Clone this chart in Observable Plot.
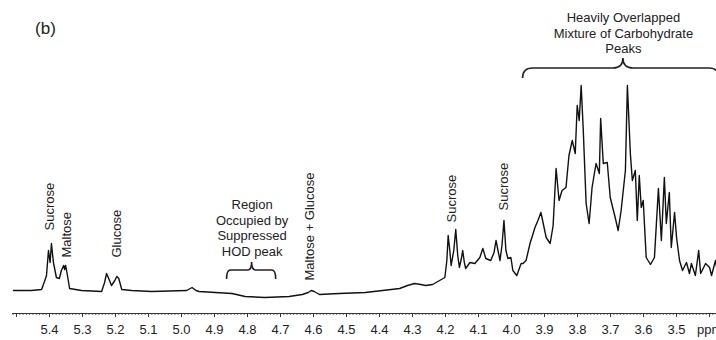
<!DOCTYPE html>
<html>
<head>
<meta charset="utf-8">
<script src="https://cdn.jsdelivr.net/npm/d3@7"></script>
<script src="https://cdn.jsdelivr.net/npm/@observablehq/plot@0.6"></script>
<style>
  html, body { margin: 0; padding: 0; background: #fff; }
  #chart { width: 716px; height: 340px; }
  svg { font-family: "Liberation Sans", Arial, sans-serif; }
</style>
</head>
<body>
<div id="chart"></div>
<script>
// Chemical shift (ppm) and intensity (arbitrary units)
const ppm = [5.509,5.455,5.424,5.415,5.409,5.403,5.398,5.394,5.388,5.379,5.370,5.364,5.357,5.354,5.351,5.345,5.339,5.303,
  5.242,5.233,5.227,5.218,5.212,5.202,5.196,5.190,5.181,5.151,5.090,4.984,4.968,4.956,4.947,4.847,4.807,4.747,4.674,4.634,
  4.616,4.607,4.598,4.582,4.522,4.443,4.391,4.339,4.315,4.294,4.275,4.260,4.239,4.218,4.202,4.196,4.192,4.187,4.183,4.175,
  4.169,4.163,4.158,4.152,4.148,4.143,4.139,4.126,4.111,4.096,4.087,4.078,4.063,4.053,4.047,4.041,4.035,4.029,4.023,4.017,
  4.011,4.002,3.996,3.984,3.971,3.965,3.956,3.944,3.929,3.920,3.911,3.895,3.883,3.874,3.865,3.856,3.847,3.835,3.826,3.816,
  3.807,3.801,3.795,3.789,3.783,3.774,3.765,3.756,3.744,3.734,3.730,3.722,3.710,3.701,3.686,3.677,3.668,3.655,3.649,3.640,
  3.634,3.625,3.619,3.613,3.607,3.601,3.592,3.579,3.567,3.555,3.546,3.537,3.531,3.522,3.516,3.506,3.500,3.491,3.482,3.470,
  3.461,3.455,3.443,3.433,3.427,3.412,3.400,3.394,3.382,3.373];
const intensity = [10,10,11,19,25,50,38,57,38,23,22,30,35,31,35,24,12,10,
  9,18,27,20,15,20,24,22,11,10,9,10,13,10,9,7,4,3,4,6,
  8,10,9,6,7,8,10,12,15,17,16,15,16,20,23,40,65,50,35,50,
  71,45,33,42,50,38,32,38,37,43,52,42,40,48,60,50,40,55,80,50,
  42,43,30,25,37,37,40,57,73,80,88,63,57,75,132,100,110,113,145,160,
  147,195,180,215,173,97,77,113,137,127,182,137,138,103,83,70,90,130,215,147,
  120,130,80,125,93,100,43,36,43,112,60,123,77,108,53,88,63,40,30,38,
  27,37,25,50,27,37,33,25,40,22];

// Axis ticks
const majorTicks = [5.5,5.4,5.3,5.2,5.1,5.0,4.9,4.8,4.7,4.6,4.5,4.4,4.3,4.2,4.1,4.0,3.9,3.8,3.7,3.6,3.5,3.4];
const tickLabels = ["","5.4","5.3","5.2","5.1","5.0","4.9","4.8","4.7","4.6","4.5","4.4","4.3","4.2","4.1","4.0","3.9","3.8","3.7","3.6","3.5","ppm"];

// Peak annotations (vertical text)
const peakNames = ["Sucrose","Maltose","Glucose","Maltose + Glucose","Sucrose","Sucrose"];
const peakPpm = [5.400,5.348,5.196,4.610,4.181,4.023];
const peakBase = [70,43,43,20,78,90];

// Region annotations
const regionTexts = ["Region\nOccupied by\nSuppressed\nHOD peak", "Heavily Overlapped\nMixture of Carbohydrate\nPeaks"];
const regionPpm = [4.786, 3.661];
const regionLevel = [73, 268];
const braceFrom = [4.862, 3.965];
const braceTo = [4.713, 3.370];
const braceLevel = [30, 232];

const panelLabel = "(b)";

const spectrum = ppm.map((p, i) => ({shift: p, v: intensity[i]}));
const peaks = peakNames.map((n, i) => ({name: n, shift: peakPpm[i], v: peakBase[i]}));
const regions = regionTexts.map((t, i) => ({text: t, shift: regionPpm[i], v: regionLevel[i]}));
const minorTicks = d3.range(0, 214).map(i => +(5.51 - i * 0.01).toFixed(2));
const yBottom = -13;

const plot = Plot.plot({
  width: 716,
  height: 340,
  marginLeft: 12,
  marginRight: 0,
  marginTop: 0,
  marginBottom: 27,
  style: {fontFamily: "Liberation Sans, Arial, sans-serif", background: "#fff", color: "#222"},
  x: {domain: [5.512, 3.379], axis: null, label: null},
  y: {domain: [yBottom, 300], axis: null, label: null},
  marks: [
    Plot.ruleY([yBottom], {stroke: "#333", strokeWidth: 1.2}),
    Plot.axisX(minorTicks, {tickSize: 2, text: null, label: null, stroke: "#444", strokeWidth: 0.8}),
    Plot.axisX(majorTicks, {tickSize: 4, tickPadding: 7, fontSize: 13, fill: "#222", stroke: "#333",
      tickFormat: (d) => tickLabels[majorTicks.indexOf(d)], label: null}),
    Plot.line(spectrum, {x: "shift", y: "v", stroke: "#111", strokeWidth: 1.4, strokeLinejoin: "round"}),
    Plot.text(peaks, {x: "shift", y: "v", text: "name", rotate: -90, textAnchor: "start", fontSize: 13, fill: "#222"}),
    Plot.text(regions, {x: "shift", y: "v", text: "text", textAnchor: "middle", lineAnchor: "middle", lineHeight: 1.2, fontSize: 13, fill: "#222"}),
    Plot.text([panelLabel], {x: 5.412, y: 272, text: d => d, fontSize: 17, fill: "#222"})
  ]
});

// Curly braces built from the plot's own scales
const sx = plot.scale("x"), sy = plot.scale("y");
const svg = d3.select(plot.tagName === "svg" ? plot : plot.querySelector("svg"));
braceFrom.forEach((b, i) => {
  const x1 = sx.apply(b), x2 = sx.apply(braceTo[i]);
  const yb = sy.apply(braceLevel[i]);
  const xm = sx.apply(regionPpm[i]);
  const drop = i === 0 ? 9 : 10, tip = i === 0 ? 8 : 10, r = i === 0 ? 4 : 10;
  const path = `M${x1},${yb + drop} Q${x1},${yb} ${x1 + r},${yb} L${xm - r},${yb} Q${xm},${yb} ${xm},${yb - tip}` +
    ` Q${xm},${yb} ${xm + r},${yb} L${x2 - r},${yb} Q${x2},${yb} ${x2},${yb + drop}`;
  svg.append("path").attr("d", path).attr("fill", "none").attr("stroke", "#222").attr("stroke-width", 1.6);
});

document.getElementById("chart").appendChild(plot);
</script>
</body>
</html>
